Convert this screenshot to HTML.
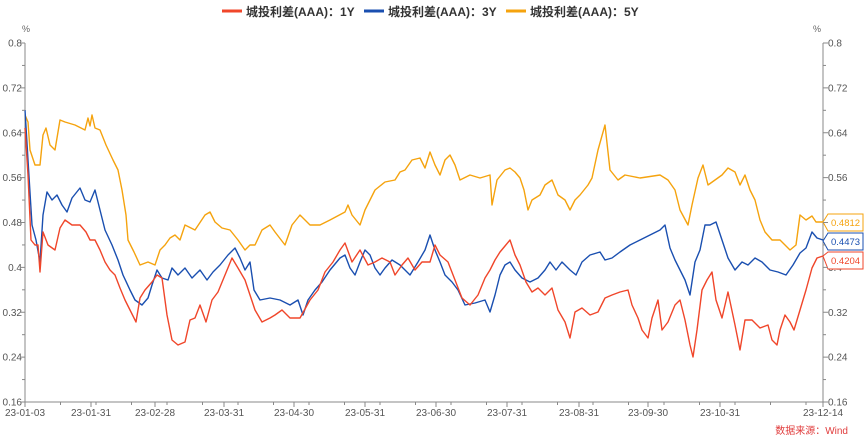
<!DOCTYPE html>
<html><head><meta charset="utf-8"><style>
body{margin:0;background:#fff;width:865px;height:438px;overflow:hidden}
svg text{font-family:"Liberation Sans","Noto Sans CJK SC",sans-serif}
</style></head><body>
<svg width="865" height="438" viewBox="0 0 865 438" xmlns="http://www.w3.org/2000/svg">
<g font-size="12" font-weight="bold" fill="#333">
<line x1="222" y1="11" x2="242" y2="11" stroke="#f0462a" stroke-width="3"/>
<text x="246" y="16">城投利差(AAA)：1Y</text>
<line x1="364" y1="11" x2="384" y2="11" stroke="#1a4fb0" stroke-width="3"/>
<text x="388" y="16">城投利差(AAA)：3Y</text>
<line x1="506" y1="11" x2="526" y2="11" stroke="#f5a30e" stroke-width="3"/>
<text x="530" y="16">城投利差(AAA)：5Y</text>
</g>
<g font-size="9" fill="#666">
<text x="22" y="32">%</text><text x="813" y="32">%</text>
</g>
<g stroke="#888" stroke-width="1">
<line x1="25" y1="43" x2="25" y2="402"/>
<line x1="823" y1="43" x2="823" y2="402"/>
<line x1="25" y1="402" x2="823" y2="402"/>
</g>
<g font-size="10" fill="#555" id="yl"></g>
<g font-size="10" fill="#555" id="xl"></g>
<g fill="none" stroke-width="1.4" stroke-linejoin="round">
<polyline stroke="#f5a30e" points="25,115 28,122 30,150 35,165 40,165 43,135 46,128 50,145 55,150 60,120 65,122 75,125 85,130 88,118 90,126 92,115 95,128 100,130 106,145 113,160 118,170 122,190 126,215 128,240 134,252 140,265 148,262 155,265 160,250 165,245 170,238 175,235 180,240 185,225 195,230 205,215 210,212 215,222 222,228 230,230 238,240 245,250 250,245 255,245 262,230 270,225 275,232 285,245 292,225 300,215 310,225 320,225 330,220 345,212 348,205 352,215 360,225 365,210 375,190 385,182 395,180 400,172 405,170 412,160 420,158 425,168 430,152 435,165 440,175 445,160 450,155 455,165 460,180 470,175 480,178 490,175 492,205 497,180 505,170 510,168 515,172 520,178 524,190 528,210 532,200 540,195 545,185 552,180 558,195 565,200 570,210 575,200 580,195 588,185 592,178 598,150 605,125 610,170 618,180 625,175 640,178 660,175 668,180 675,190 680,210 688,225 692,205 698,178 703,165 708,185 715,180 722,175 728,168 735,172 740,185 745,175 750,190 755,200 760,220 765,232 772,240 780,240 790,250 796,245 800,215 806,220 812,216 816,222 823,222"/>
<polyline stroke="#1a4fb0" points="25,110 28,160 32,225 36,240 40,262 43,215 47,192 52,200 57,195 62,205 67,212 72,198 80,188 85,200 90,202 95,190 100,210 105,230 112,245 118,260 123,275 130,290 135,300 142,305 148,298 152,285 157,270 162,278 168,280 172,268 178,275 185,268 192,278 200,270 207,280 213,272 220,265 228,255 235,248 240,258 245,270 250,262 254,290 260,300 270,298 280,300 290,305 298,300 303,315 308,300 315,290 322,282 330,270 340,258 345,255 350,268 355,275 360,262 365,250 370,255 375,268 380,275 385,268 392,260 400,265 410,275 418,262 425,250 430,235 435,250 440,262 445,275 452,282 458,290 465,305 475,303 485,300 490,312 495,295 500,275 505,265 510,262 515,270 522,278 530,282 538,278 545,270 550,262 556,270 562,262 570,270 576,275 582,262 590,255 600,252 605,260 612,258 620,252 630,245 640,240 650,235 660,230 665,225 670,248 675,260 680,270 685,280 690,295 695,262 700,250 705,225 710,225 716,222 722,240 728,258 735,270 742,262 748,265 755,258 762,262 770,270 778,272 786,275 793,265 800,253 806,248 812,232 817,238 823,240"/>
<polyline stroke="#f0462a" points="25,128 28,175 31,240 35,245 38,245 40,272 43,232 48,245 55,250 60,228 65,220 72,225 80,225 86,232 90,240 95,240 100,250 105,262 110,270 115,275 120,288 125,300 130,310 136,322 140,298 145,290 152,282 157,275 162,278 167,315 172,340 178,345 185,342 190,320 195,318 200,305 206,322 212,300 218,292 225,275 232,258 238,268 245,280 250,295 255,310 262,322 270,318 275,315 282,310 290,318 300,318 310,300 318,290 325,272 333,262 340,250 345,243 352,262 360,250 368,265 375,262 382,258 390,262 395,275 402,265 408,258 415,270 422,262 430,262 435,245 440,255 448,262 455,280 462,298 470,305 478,295 485,278 490,270 495,260 500,252 505,246 510,240 515,255 520,265 526,282 532,292 538,288 545,295 552,288 558,310 565,322 570,338 575,312 582,308 590,315 598,312 605,298 612,295 620,292 628,290 632,305 638,318 642,330 648,338 652,318 658,300 662,330 668,322 675,305 680,300 685,320 690,345 693,357 697,330 702,290 707,280 712,272 716,300 722,318 728,292 735,325 740,350 745,320 752,320 760,328 768,325 772,340 777,345 780,330 785,315 790,322 794,330 800,310 806,290 812,268 817,258 823,256"/>
</g>
<g font-size="9.5">
<path d="M823,222 L828,214 L863,214 L863,231 L828,231 Z" fill="#fff" stroke="#f5a30e"/>
<text x="831" y="226" fill="#f5a30e">0.4812</text>
<path d="M823,241 L828,233 L863,233 L863,250 L828,250 Z" fill="#fff" stroke="#1a4fb0"/>
<text x="831" y="245" fill="#1a4fb0">0.4473</text>
<path d="M823,256 L828,252 L863,252 L863,269 L828,269 Z" fill="#fff" stroke="#f0462a"/>
<text x="831" y="264" fill="#f0462a">0.4204</text>
</g>
<text x="848" y="434" font-size="10" fill="#e03c3c" text-anchor="end">数据来源：Wind</text>
</svg>
<script>
(function(){
var ns="http://www.w3.org/2000/svg",s=document.querySelector('svg'),yl=document.getElementById('yl'),xl=document.getElementById('xl');
function el(t,a,p){var e=document.createElementNS(ns,t);for(var k in a)e.setAttribute(k,a[k]);p.appendChild(e);return e;}
var vals=["0.8","0.72","0.64","0.56","0.48","0.4","0.32","0.24","0.16"];
for(var i=0;i<=16;i++){var y=43+i*359/16;
el('line',{x1:i%2?22:20,y1:y,x2:25,y2:y,stroke:'#888'},s);
el('line',{x1:823,y1:y,x2:i%2?826:828,y2:y,stroke:'#888'},s);
if(i%2==0){var v=vals[i/2];
var t=el('text',{x:22,y:y+3.5,'text-anchor':'end'},yl);t.textContent=v;
t=el('text',{x:828,y:y+3.5},yl);t.textContent=v;}}
var xs=[[25,"23-01-03"],[91,"23-01-31"],[155,"23-02-28"],[224,"23-03-31"],[294,"23-04-30"],[365,"23-05-31"],[436,"23-06-30"],[507,"23-07-31"],[579,"23-08-31"],[648,"23-09-30"],[720,"23-10-31"],[823,"23-12-14"]];
xs.forEach(function(d){el('line',{x1:d[0],y1:402,x2:d[0],y2:407,stroke:'#888'},s);
var t=el('text',{x:d[0],y:416,'text-anchor':'middle'},xl);t.textContent=d[1];});
for(var x=25;x<823;x+=35.5){el('line',{x1:x,y1:402,x2:x,y2:405,stroke:'#888'},s);}
})();
</script>
</body></html>
